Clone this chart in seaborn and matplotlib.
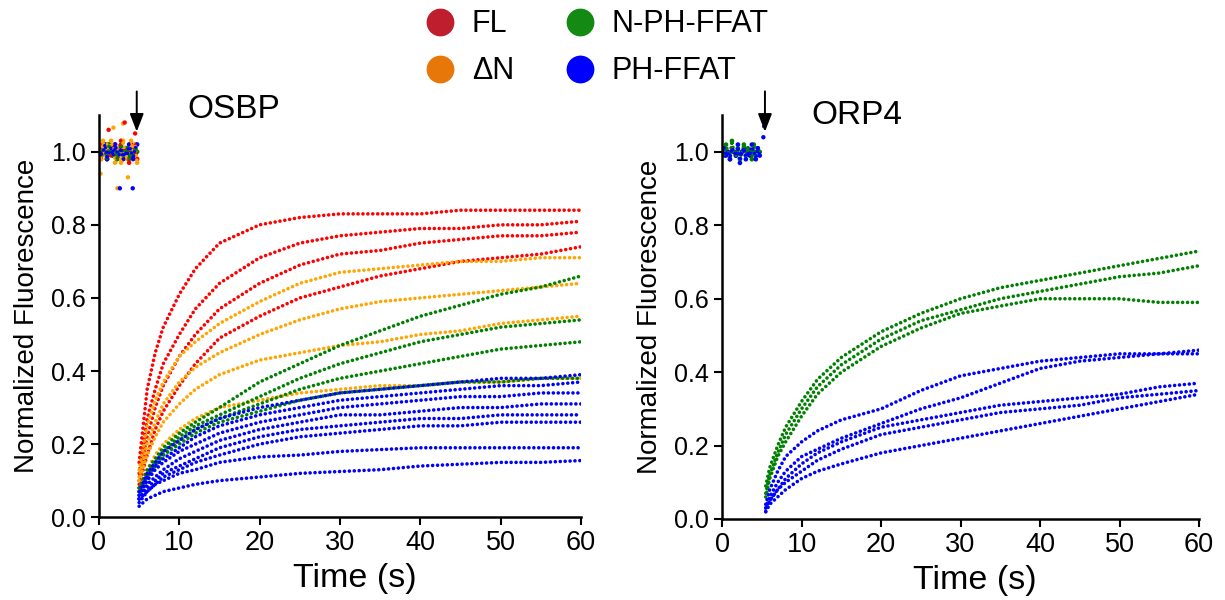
"""Stopped-flow style lipid transfer traces for OSBP and ORP4 constructs."""

import numpy as np
import pandas as pd
import matplotlib
matplotlib.use("Agg")
import matplotlib.pyplot as plt
from matplotlib.lines import Line2D
import seaborn as sns

OSBP_T = [5, 6, 7, 8, 10, 12, 15, 20, 25, 30, 35, 40, 45, 50, 55, 60]
ORP4_T = [5.5, 6, 7, 8, 10, 12, 15, 20, 25, 30, 35, 40, 45, 50, 55, 60]

# OSBP, FL (red)
FL_1 = [0.15, 0.35, 0.45, 0.52, 0.61, 0.68, 0.75, 0.80, 0.82, 0.83, 0.83, 0.83, 0.84, 0.84, 0.84, 0.84]
FL_2 = [0.12, 0.27, 0.35, 0.42, 0.50, 0.57, 0.64, 0.71, 0.75, 0.77, 0.78, 0.79, 0.79, 0.80, 0.80, 0.81]
FL_3 = [0.10, 0.22, 0.30, 0.36, 0.44, 0.50, 0.57, 0.64, 0.69, 0.72, 0.73, 0.75, 0.76, 0.77, 0.77, 0.78]
FL_4 = [0.09, 0.17, 0.24, 0.29, 0.36, 0.42, 0.49, 0.55, 0.60, 0.63, 0.66, 0.68, 0.70, 0.71, 0.72, 0.74]
# OSBP, delta-N (orange)
DN_1 = [0.13, 0.25, 0.32, 0.37, 0.44, 0.48, 0.53, 0.59, 0.64, 0.67, 0.68, 0.69, 0.70, 0.70, 0.71, 0.71]
DN_2 = [0.11, 0.20, 0.26, 0.31, 0.37, 0.41, 0.45, 0.50, 0.54, 0.57, 0.59, 0.60, 0.61, 0.62, 0.63, 0.64]
DN_3 = [0.10, 0.17, 0.22, 0.26, 0.31, 0.35, 0.39, 0.43, 0.45, 0.47, 0.48, 0.50, 0.51, 0.53, 0.54, 0.55]
DN_4 = [0.08, 0.13, 0.17, 0.20, 0.24, 0.27, 0.30, 0.32, 0.34, 0.35, 0.36, 0.36, 0.37, 0.37, 0.38, 0.38]
# OSBP, N-PH-FFAT (green)
NP_1 = [0.08, 0.13, 0.16, 0.19, 0.23, 0.26, 0.30, 0.37, 0.42, 0.47, 0.51, 0.55, 0.58, 0.61, 0.63, 0.66]
NP_2 = [0.08, 0.12, 0.15, 0.18, 0.22, 0.25, 0.28, 0.33, 0.38, 0.42, 0.45, 0.48, 0.50, 0.52, 0.53, 0.54]
NP_3 = [0.07, 0.11, 0.14, 0.17, 0.21, 0.24, 0.27, 0.31, 0.35, 0.38, 0.40, 0.42, 0.44, 0.46, 0.47, 0.48]
NP_4 = [0.07, 0.11, 0.14, 0.17, 0.20, 0.23, 0.26, 0.29, 0.32, 0.34, 0.35, 0.36, 0.37, 0.37, 0.38, 0.38]
# OSBP, PH-FFAT (blue)
PF_1 = [0.07, 0.12, 0.15, 0.18, 0.21, 0.24, 0.27, 0.30, 0.32, 0.34, 0.35, 0.36, 0.37, 0.38, 0.38, 0.39]
PF_2 = [0.06, 0.11, 0.14, 0.16, 0.19, 0.22, 0.25, 0.28, 0.30, 0.32, 0.33, 0.34, 0.35, 0.36, 0.36, 0.37]
PF_3 = [0.06, 0.10, 0.13, 0.15, 0.18, 0.20, 0.23, 0.26, 0.28, 0.30, 0.31, 0.32, 0.33, 0.33, 0.34, 0.34]
PF_4 = [0.05, 0.09, 0.11, 0.13, 0.16, 0.18, 0.21, 0.24, 0.26, 0.28, 0.28, 0.29, 0.30, 0.30, 0.31, 0.31]
PF_5 = [0.05, 0.08, 0.10, 0.12, 0.14, 0.16, 0.19, 0.22, 0.24, 0.25, 0.26, 0.27, 0.27, 0.28, 0.28, 0.28]
PF_6 = [0.05, 0.07, 0.09, 0.11, 0.13, 0.15, 0.17, 0.20, 0.22, 0.23, 0.24, 0.25, 0.25, 0.26, 0.26, 0.26]
PF_7 = [0.04, 0.07, 0.09, 0.10, 0.12, 0.13, 0.15, 0.165, 0.17, 0.18, 0.185, 0.19, 0.19, 0.19, 0.19, 0.19]
PF_8 = [0.03, 0.05, 0.06, 0.07, 0.08, 0.09, 0.10, 0.11, 0.12, 0.125, 0.13, 0.14, 0.145, 0.15, 0.15, 0.155]

# ORP4, N-PH-FFAT (green)
OG_1 = [0.09, 0.14, 0.20, 0.25, 0.32, 0.38, 0.44, 0.51, 0.56, 0.60, 0.63, 0.65, 0.67, 0.69, 0.71, 0.73]
OG_2 = [0.07, 0.12, 0.18, 0.23, 0.30, 0.36, 0.42, 0.49, 0.54, 0.57, 0.60, 0.62, 0.64, 0.66, 0.67, 0.69]
OG_3 = [0.06, 0.11, 0.17, 0.21, 0.28, 0.34, 0.40, 0.47, 0.52, 0.56, 0.58, 0.60, 0.60, 0.60, 0.59, 0.59]
# ORP4, PH-FFAT (blue)
OB_1 = [0.04, 0.08, 0.13, 0.17, 0.21, 0.24, 0.27, 0.30, 0.35, 0.39, 0.41, 0.43, 0.44, 0.45, 0.45, 0.46]
OB_2 = [0.03, 0.06, 0.10, 0.13, 0.17, 0.19, 0.22, 0.26, 0.30, 0.33, 0.37, 0.41, 0.43, 0.44, 0.45, 0.45]
OB_3 = [0.03, 0.05, 0.08, 0.11, 0.15, 0.18, 0.21, 0.25, 0.27, 0.29, 0.31, 0.32, 0.33, 0.34, 0.36, 0.37]
OB_4 = [0.02, 0.05, 0.08, 0.10, 0.13, 0.16, 0.19, 0.23, 0.25, 0.27, 0.29, 0.30, 0.31, 0.33, 0.34, 0.35]
OB_5 = [0.02, 0.04, 0.06, 0.08, 0.11, 0.13, 0.15, 0.18, 0.20, 0.22, 0.24, 0.26, 0.28, 0.30, 0.32, 0.34]

# pre-injection baseline (0-4.75 s), one reading every 0.25 s per construct
BASE_T = [0.0, 0.25, 0.5, 0.75, 1.0, 1.25, 1.5, 1.75, 2.0, 2.25,
          2.5, 2.75, 3.0, 3.25, 3.5, 3.75, 4.0, 4.25, 4.5, 4.75]
BASE_FL = [1.00, 0.98, 1.02, 1.01, 0.98, 1.02, 0.99, 1.00, 1.02, 0.98,
           1.01, 1.03, 0.98, 1.01, 1.00, 0.97, 1.02, 0.99, 1.02, 0.98]
BASE_DN = [1.02, 0.98, 1.03, 0.99, 1.02, 1.00, 1.03, 1.01, 0.97, 0.99,
           1.01, 0.97, 1.03, 1.00, 0.98, 0.99, 1.03, 0.99, 1.02, 0.97]
BASE_NP = [1.00, 0.99, 1.01, 1.00, 0.98, 1.02, 1.00, 0.99, 1.01, 0.98,
           1.00, 1.02, 0.99, 1.00, 1.01, 0.98, 1.00, 0.99, 1.01, 1.00]
BASE_PF = [1.01, 0.99, 1.00, 1.02, 0.98, 1.00, 1.01, 0.99, 1.02, 1.00,
           0.99, 1.01, 0.98, 1.00, 0.99, 1.02, 1.00, 0.98, 1.01, 1.02]
BASE4_NP = [1.01, 0.99, 1.02, 1.00, 0.98, 1.03, 1.00, 0.99, 1.01, 0.98,
            1.00, 1.02, 0.99, 1.01, 1.00, 0.98, 1.02, 0.99, 1.01, 1.00]
BASE4_PF = [1.00, 1.01, 0.99, 1.00, 0.98, 1.01, 1.00, 0.99, 1.02, 0.97,
            1.00, 1.01, 0.98, 1.00, 0.99, 1.02, 1.00, 0.98, 1.01, 0.99]

# stray baseline points well off 1.0
OUT_T = [0.2, 1.8, 2.3, 3.0, 3.6, 2.6, 4.2, 3.2, 1.2, 4.5, 5.2, 5.3]
OUT_V = [0.94, 1.066, 0.90, 1.077, 0.93, 0.90, 0.90, 1.08, 1.06, 1.05, 1.04, 1.07]
OUT_G = ["ΔN", "ΔN", "ΔN", "ΔN", "ΔN", "PH-FFAT", "PH-FFAT", "FL", "FL", "FL",
         "PH-FFAT", "PH-FFAT"]
OUT_PANEL = ["OSBP"] * 10 + ["ORP4"] * 2

GROUPS = ["FL", "ΔN", "N-PH-FFAT", "PH-FFAT"]
DOT_COLORS = {"FL": "#ff0000", "ΔN": "#ffa500", "N-PH-FFAT": "#008000", "PH-FFAT": "#0000ff"}
LEGEND_COLORS = {"FL": "#be1e2d", "ΔN": "#e8770a", "N-PH-FFAT": "#138a13", "PH-FFAT": "#0000ff"}

OSBP_TRACES = {
    "FL": [FL_1, FL_2, FL_3, FL_4],
    "ΔN": [DN_1, DN_2, DN_3, DN_4],
    "N-PH-FFAT": [NP_1, NP_2, NP_3, NP_4],
    "PH-FFAT": [PF_1, PF_2, PF_3, PF_4, PF_5, PF_6, PF_7, PF_8],
}
ORP4_TRACES = {
    "N-PH-FFAT": [OG_1, OG_2, OG_3],
    "PH-FFAT": [OB_1, OB_2, OB_3, OB_4, OB_5],
}
OSBP_BASE = {"FL": BASE_FL, "ΔN": BASE_DN, "N-PH-FFAT": BASE_NP, "PH-FFAT": BASE_PF}
ORP4_BASE = {"N-PH-FFAT": BASE4_NP, "PH-FFAT": BASE4_PF}


def long_table(times, traces):
    rows = []
    for group, series in traces.items():
        for k, vals in enumerate(series):
            for t, v in zip(times, vals):
                rows.append({"time": t, "value": v, "group": group,
                             "trace": f"{group}_{k}"})
    return pd.DataFrame(rows)


def base_table(base):
    rows = []
    for group, vals in base.items():
        for t, v in zip(BASE_T, vals):
            rows.append({"time": t, "value": v, "group": group})
    return pd.DataFrame(rows)


def draw_panel(ax, name, times, traces, base, arrow_t, title_xy):
    df = long_table(times, traces)
    bdf = base_table(base)
    odf = pd.DataFrame({"time": OUT_T, "value": OUT_V, "group": OUT_G, "panel": OUT_PANEL})
    odf = odf[odf.panel == name]
    pal = {g: DOT_COLORS[g] for g in traces}
    dotted = dict(linestyle=(0, (0.01, 1.35)), dash_capstyle="round", linewidth=2.6)
    sns.lineplot(data=df, x="time", y="value", hue="group", units="trace",
                 estimator=None, palette=pal, legend=False, ax=ax, **dotted)
    sns.lineplot(data=bdf, x="time", y="value", hue="group", estimator=None,
                 palette=pal, legend=False, ax=ax, sort=False,
                 **dict(dotted, linewidth=2.4))
    sns.scatterplot(data=bdf, x="time", y="value", hue="group", palette=pal,
                    s=11, linewidth=0, legend=False, ax=ax)
    sns.scatterplot(data=odf, x="time", y="value", hue="group", palette=pal,
                    s=10, linewidth=0, legend=False, ax=ax, clip_on=False)

    ax.set_xlim(0, 60)
    ax.set_ylim(0, 1.1)
    ax.set_xticks(np.arange(0, 61, 10))
    ax.set_yticks(np.arange(0, 1.01, 0.2))
    ax.set_yticklabels([f"{v:.1f}" for v in np.arange(0, 1.01, 0.2)])
    ax.set_xlabel("Time (s)", fontsize=24.5)
    ax.xaxis.set_label_coords(0.53, -0.115)
    ax.set_ylabel("Normalized Fluorescence", fontsize=20, labelpad=8)
    ax.tick_params(axis="x", labelsize=19.5, width=1.5, length=6, direction="out")
    ax.tick_params(axis="y", labelsize=18, width=1.5, length=6, direction="out")
    for side in ("left", "bottom"):
        ax.spines[side].set_linewidth(1.8)
    sns.despine(ax=ax)
    ax.text(title_xy[0], title_xy[1], name, fontsize=24, va="center",
            transform=ax.transData, clip_on=False)
    ax.annotate("", xy=(arrow_t, 1.055), xytext=(arrow_t, 1.165),
                annotation_clip=False,
                arrowprops=dict(arrowstyle="-|>,head_length=0.9,head_width=0.35",
                                color="black", lw=1.4, shrinkA=0, shrinkB=0))


def main():
    sns.set_theme(style="ticks")
    plt.rcParams["font.family"] = ["Liberation Sans", "DejaVu Sans"]
    for key in ("text.color", "axes.labelcolor", "xtick.color", "ytick.color",
                "axes.edgecolor"):
        plt.rcParams[key] = "black"

    fig = plt.figure(figsize=(12.25, 6), dpi=100)
    ax1 = fig.add_axes([0.0808, 0.138, 0.3935, 0.67])
    ax2 = fig.add_axes([0.5894, 0.135, 0.3894, 0.673])

    draw_panel(ax1, "OSBP", OSBP_T, OSBP_TRACES, OSBP_BASE, 4.7, (11.0, 1.115))
    draw_panel(ax2, "ORP4", ORP4_T, ORP4_TRACES, ORP4_BASE, 5.4, (11.3, 1.10))

    handles = [Line2D([], [], marker="o", ls="", markersize=19,
                      color=LEGEND_COLORS[g]) for g in GROUPS]
    fig.legend(handles, GROUPS, ncol=2, loc="upper center",
               bbox_to_anchor=(0.487, 1.03), frameon=False, fontsize=22,
               handletextpad=0.55, columnspacing=1.65, labelspacing=0.55,
               handlelength=1.0)

    fig.savefig("out.png", dpi=100)
    plt.close(fig)


if __name__ == "__main__":
    main()
